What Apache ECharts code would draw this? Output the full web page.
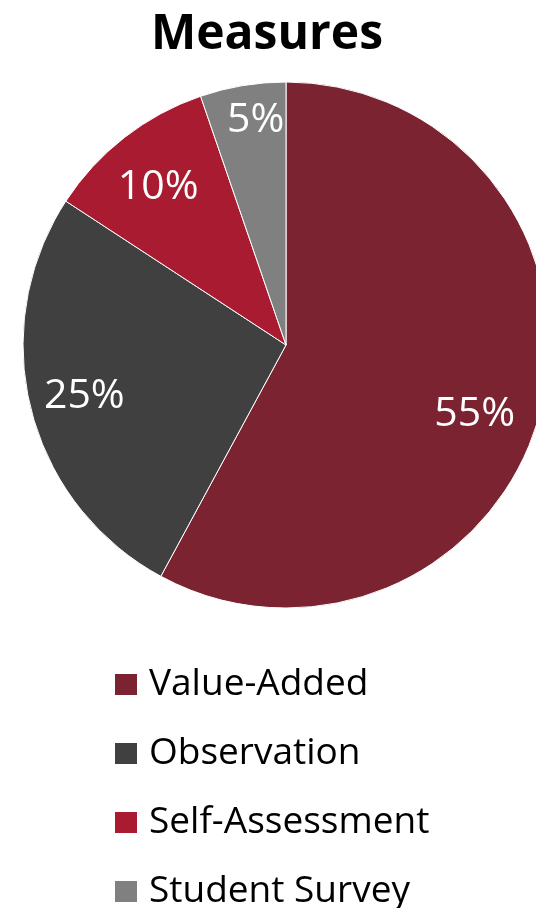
<!DOCTYPE html>
<html>
<head>
<meta charset="utf-8">
<script src="https://cdn.jsdelivr.net/npm/echarts@6/dist/echarts.min.js"></script>
<style>
  html, body { margin: 0; padding: 0; background: #fff; }
  #chart { width: 536px; height: 908px; }
</style>
</head>
<body>
<div id="chart"></div>
<script>
const categories = ["Value-Added", "Observation", "Self-Assessment", "Student Survey"];
const values = [55, 25, 10, 5];
const colors = ["#7b2331", "#404040", "#a91b30", "#808080"];
// Excel nudged a few labels; keep those nudges here
const labelOffsets = [[-13, 18], [0, 0], [0, 6], [4, -20]];

const font = "'Open Sans', 'Noto Sans', sans-serif";
const chart = echarts.init(document.getElementById("chart"));

const pieData = categories.map((name, i) => ({
  name,
  value: values[i],
  itemStyle: { color: colors[i] }
}));

chart.setOption({
  animation: false,
  backgroundColor: "#fff",
  title: {
    text: "Measures",
    left: 262,
    top: 6,
    textAlign: "center",
    textStyle: { fontFamily: font, fontSize: 48, fontWeight: "bold", color: "#000" }
  },
  legend: {
    orient: "vertical",
    left: 108,
    top: 661,
    height: 400,
    icon: "rect",
    itemWidth: 24,
    itemHeight: 23,
    itemGap: 32,
    data: categories,
    textStyle: { fontFamily: font, fontSize: 37, color: "#000", padding: [0, 0, 0, 6] }
  },
  series: [
    {
      type: "pie",
      center: [286, 345],
      radius: 263,
      startAngle: 90,
      clockwise: true,
      label: { show: false },
      labelLine: { show: false },
      itemStyle: { borderColor: "#fff", borderWidth: 1 },
      emphasis: { disabled: true },
      data: pieData
    },
    {
      // transparent ring used only to place the percentage labels
      type: "pie",
      center: [286, 345],
      radius: [147, 263],
      startAngle: 90,
      clockwise: true,
      silent: true,
      legendHoverLink: false,
      emphasis: { disabled: true },
      labelLine: { show: false },
      data: categories.map((name, i) => ({
        name,
        value: values[i],
        itemStyle: { color: "rgba(0,0,0,0)" },
        label: {
          show: true,
          position: "inside",
          formatter: values[i] + "%",
          fontFamily: font,
          fontSize: 41,
          color: "#fff",
          offset: labelOffsets[i]
        }
      }))
    }
  ]
});
</script>
</body>
</html>
